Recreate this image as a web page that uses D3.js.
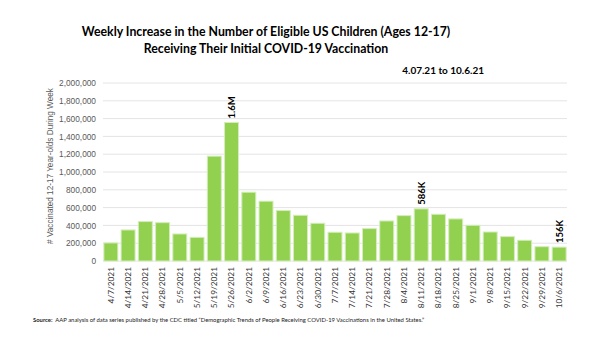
<!DOCTYPE html>
<html lang="en">
<head>
  <meta charset="UTF-8">
  <title>Weekly Increase in Eligible US Children Vaccinated</title>
  <script src="https://d3js.org/d3.v7.min.js"></script>
  <style>
    body { margin: 0; background: #fff; }
    svg { display: block; }
    .title { font-family: 'Lato', sans-serif; font-weight: bold; fill: #000; }
    .tick text { font-family: 'Liberation Sans', Arial, sans-serif; }
  </style>
</head>
<body>
<div id="chart"></div>
<script>
  const weeks = ["4/7/2021", "4/14/2021", "4/21/2021", "4/28/2021", "5/5/2021", "5/12/2021",
    "5/19/2021", "5/26/2021", "6/2/2021", "6/9/2021", "6/16/2021", "6/23/2021", "6/30/2021",
    "7/7/2021", "7/14/2021", "7/21/2021", "7/28/2021", "8/4/2021", "8/11/2021", "8/18/2021",
    "8/25/2021", "9/1/2021", "9/8/2021", "9/15/2021", "9/22/2021", "9/29/2021", "10/6/2021"];
  const vaccinated = [203000, 349000, 443000, 431000, 304000, 266000, 1178000, 1556000, 773000,
    672000, 567000, 514000, 424000, 323000, 315000, 364000, 450000, 510000, 586000, 525000,
    473000, 401000, 326000, 274000, 233000, 161000, 156000];
  const callouts = { "5/26/2021": "1.6M", "8/11/2021": "586K", "10/6/2021": "156K" };
  const yTicks = d3.range(0, 2000001, 200000);

  const width = 600, height = 347;
  const margin = { top: 83, right: 33, bottom: 86, left: 103 };

  const svg = d3.select("#chart").append("svg")
    .attr("width", width)
    .attr("height", height);

  // titulos
  svg.append("text").attr("class", "title")
    .attr("x", 266).attr("y", 36).attr("text-anchor", "middle")
    .style("font-size", "12.3px")
    .text("Weekly Increase in the Number of Eligible US Children (Ages 12-17)");
  svg.append("text").attr("class", "title")
    .attr("x", 266).attr("y", 53).attr("text-anchor", "middle")
    .style("font-size", "12.3px")
    .text("Receiving Their Initial COVID-19 Vaccination");
  svg.append("text").attr("class", "title")
    .attr("x", 484).attr("y", 74).attr("text-anchor", "end")
    .style("font-size", "10px")
    .text("4.07.21 to 10.6.21");

  const x = d3.scaleBand()
    .domain(weeks)
    .range([margin.left, width - margin.right])
    .paddingInner(0.19)
    .paddingOuter(0.05);

  const y = d3.scaleLinear()
    .domain([0, 2000000])
    .range([height - margin.bottom, margin.top]);

  // grid
  svg.append("g")
    .selectAll("line")
    .data(yTicks)
    .join("line")
    .attr("x1", margin.left)
    .attr("x2", width - margin.right)
    .attr("y1", d => y(d))
    .attr("y2", d => y(d))
    .attr("stroke", "#e4e4e4")
    .attr("stroke-width", 1);

  const yAxis = svg.append("g")
    .attr("transform", `translate(${margin.left},0)`)
    .call(d3.axisLeft(y).tickValues(yTicks).tickFormat(d3.format(",")).tickSize(0).tickPadding(7));
  yAxis.select(".domain").remove();
  yAxis.selectAll("text")
    .style("font-size", "8.3px")
    .style("fill", "#595959");

  svg.append("text")
    .attr("transform", `translate(53,${(y(0) + y(2000000)) / 2 - 6}) rotate(-90)`)
    .attr("text-anchor", "middle")
    .style("font-family", "'Liberation Sans', Arial, sans-serif")
    .style("font-size", "8.2px")
    .style("fill", "#595959")
    .text("# Vaccinated 12-17 Year-olds During Week");

  svg.append("g")
    .selectAll("rect")
    .data(weeks)
    .join("rect")
    .attr("x", d => x(d))
    .attr("width", x.bandwidth())
    .attr("y", (d, i) => y(vaccinated[i]))
    .attr("height", (d, i) => y(0) - y(vaccinated[i]))
    .attr("fill", "#92d050")
    .attr("stroke", "#d4edbb")
    .attr("stroke-width", 1);

  // etiquetas de valores destacados
  svg.append("g")
    .selectAll("text")
    .data(weeks.filter(w => callouts[w]))
    .join("text")
    .attr("transform", d => `translate(${x(d) + x.bandwidth() / 2 + 3.5},${y(vaccinated[weeks.indexOf(d)]) - 4}) rotate(-90)`)
    .style("font-family", "'Lato', sans-serif")
    .style("font-weight", "bold")
    .style("font-size", "9.5px")
    .style("fill", "#000")
    .text(d => callouts[d]);

  const xAxis = svg.append("g")
    .attr("transform", `translate(0,${y(0)})`)
    .call(d3.axisBottom(x).tickSize(0).tickPadding(0));
  xAxis.select(".domain").remove();
  xAxis.selectAll("text")
    .attr("transform", "rotate(-90)")
    .attr("text-anchor", "end")
    .attr("x", -6)
    .attr("y", 0)
    .attr("dy", "0.35em")
    .style("font-family", "'Lato', sans-serif")
    .style("font-size", "8.3px")
    .style("fill", "#333");

  const source = svg.append("text")
    .attr("x", 33).attr("y", 322)
    .style("font-family", "'Lato', sans-serif")
    .style("font-size", "5.9px")
    .style("fill", "#222");
  source.append("tspan").style("font-weight", "bold").text("Source:");
  source.append("tspan")
    .text("\u00a0 AAP analysis of data series published by the CDC titled \u201cDemographic Trends of People Receiving COVID-19 Vaccinations in the United States.\u201d");
</script>
</body>
</html>
